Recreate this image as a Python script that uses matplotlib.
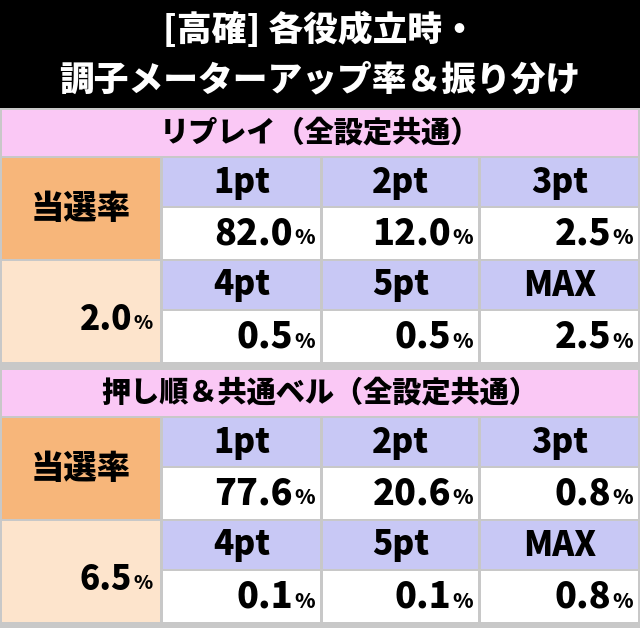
import matplotlib
matplotlib.use("Agg")
import matplotlib.pyplot as plt
from matplotlib.patches import Rectangle

plt.rcParams['font.family'] = ['Noto Sans CJK JP', 'DejaVu Sans']

title_lines = ["[高確] 各役成立時・", "調子メーターアップ率＆振り分け"]
section_titles = ["リプレイ（全設定共通）", "押し順＆共通ベル（全設定共通）"]
section_rates = ["2.0", "6.5"]
pt_labels = [["1pt", "2pt", "3pt"], ["4pt", "5pt", "MAX"]]
replay_values = [["82.0", "12.0", "2.5"], ["0.5", "0.5", "2.5"]]
bell_values = [["77.6", "20.6", "0.8"], ["0.1", "0.1", "0.8"]]
section_values = [replay_values, bell_values]

PINK = "#fac8f5"; LAV = "#c8c8f5"; ORG = "#f7b67a"; LORG = "#fde4cc"; WHITE = "#ffffff"
W = 'black'

fig = plt.figure(figsize=(6.4, 6.28), dpi=100)
ax = fig.add_axes([0, 0, 1, 1])
ax.set_xlim(0, 640); ax.set_ylim(628, 0); ax.axis('off')
fig.patch.set_facecolor("#c8c8c8")

def box(x0, y0, x1, y1, c):
    ax.add_patch(Rectangle((x0, y0), x1 - x0, y1 - y0, facecolor=c, edgecolor='none'))

box(0, 0, 640, 108, "black")
ax.text(320, 30, title_lines[0], color='white', fontsize=25, weight=W, ha='center', va='center')
ax.text(320, 80, title_lines[1], color='white', fontsize=25, weight=W, ha='center', va='center')

cols = [(163, 320), (323, 478), (481, 638)]
tops = [110, 370]
for s in range(2):
    t = tops[s]
    box(2, t, 638, t + 46, PINK)
    ax.text(320, t + 23, section_titles[s], fontsize=21, weight=W, ha='center', va='center')
    rows = [(t + 48, t + 96), (t + 98, t + 149), (t + 151, t + 199), (t + 201, t + 252)]
    box(2, rows[0][0], 160, rows[1][1], ORG)
    box(2, rows[2][0], 160, rows[3][1], LORG)
    ax.text(81, (rows[0][0] + rows[1][1]) / 2, "当選率", fontsize=24, weight=W, ha='center', va='center')
    ax.text(132, (rows[2][0] + rows[3][1]) / 2 + 8, section_rates[s], fontsize=24, weight=W, ha='right', va='center')
    ax.text(133, (rows[2][0] + rows[3][1]) / 2 + 12, "%", fontsize=14, weight=W, ha='left', va='center')
    for r in range(2):
        hr = rows[2 * r]; vr = rows[2 * r + 1]
        for c, (x0, x1) in enumerate(cols):
            box(x0, hr[0], x1, hr[1], LAV)
            box(x0, vr[0], x1, vr[1], WHITE)
            ax.text((x0 + x1) / 2, (hr[0] + hr[1]) / 2, pt_labels[r][c], fontsize=24, weight=W, ha='center', va='center')
            ax.text(x1 - 27, (vr[0] + vr[1]) / 2, section_values[s][r][c], fontsize=26, weight=W, ha='right', va='center')
            ax.text(x1 - 26, (vr[0] + vr[1]) / 2 + 5, "%", fontsize=15, weight=W, ha='left', va='center')

fig.savefig("out.png", dpi=100, facecolor=fig.get_facecolor())
